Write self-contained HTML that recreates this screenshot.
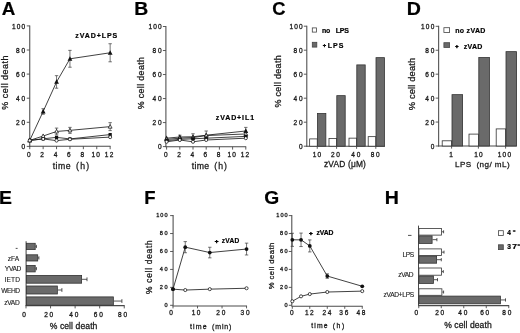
<!DOCTYPE html>
<html><head><meta charset="utf-8"><title>Figure</title>
<style>html,body{margin:0;padding:0;background:#fff;overflow:hidden;}svg{display:block;filter:blur(0.3px);}</style>
</head><body>
<svg width="520" height="333" viewBox="0 0 520 333">
<rect width="520" height="333" fill="#fff"/>
<g font-family="'Liberation Sans', sans-serif">
<text x="1.83" y="14.80" font-size="17.5" textLength="13.56" lengthAdjust="spacingAndGlyphs" font-weight="bold" fill="#000" stroke="#000" stroke-width="0.2">A</text>
<line x1="29.75" y1="25.40" x2="29.75" y2="146.90" stroke="#4a4a4a" stroke-width="1.05"/>
<line x1="26.75" y1="146.40" x2="29.75" y2="146.40" stroke="#4a4a4a" stroke-width="0.9"/>
<text x="21.54" y="149.00" font-size="6.5" letter-spacing="1.80" fill="#1a1a1a" stroke="#1a1a1a" stroke-width="0.3">0</text>
<line x1="26.75" y1="122.30" x2="29.75" y2="122.30" stroke="#4a4a4a" stroke-width="0.9"/>
<text x="16.12" y="124.90" font-size="6.5" letter-spacing="1.80" fill="#1a1a1a" stroke="#1a1a1a" stroke-width="0.3">20</text>
<line x1="26.75" y1="98.20" x2="29.75" y2="98.20" stroke="#4a4a4a" stroke-width="0.9"/>
<text x="16.12" y="100.80" font-size="6.5" letter-spacing="1.80" fill="#1a1a1a" stroke="#1a1a1a" stroke-width="0.3">40</text>
<line x1="26.75" y1="74.10" x2="29.75" y2="74.10" stroke="#4a4a4a" stroke-width="0.9"/>
<text x="16.12" y="76.70" font-size="6.5" letter-spacing="1.80" fill="#1a1a1a" stroke="#1a1a1a" stroke-width="0.3">60</text>
<line x1="26.75" y1="50.00" x2="29.75" y2="50.00" stroke="#4a4a4a" stroke-width="0.9"/>
<text x="16.12" y="52.60" font-size="6.5" letter-spacing="1.80" fill="#1a1a1a" stroke="#1a1a1a" stroke-width="0.3">80</text>
<line x1="26.75" y1="25.90" x2="29.75" y2="25.90" stroke="#4a4a4a" stroke-width="0.9"/>
<text x="11.91" y="28.50" font-size="6.5" letter-spacing="1.20" fill="#1a1a1a" stroke="#1a1a1a" stroke-width="0.3">100</text>
<line x1="29.25" y1="146.20" x2="110.55" y2="146.20" stroke="#4a4a4a" stroke-width="1.05"/>
<line x1="29.75" y1="146.20" x2="29.75" y2="149.20" stroke="#4a4a4a" stroke-width="0.9"/>
<text x="26.94" y="157.10" font-size="6.5" letter-spacing="1.80" fill="#1a1a1a" stroke="#1a1a1a" stroke-width="0.3">0</text>
<line x1="43.15" y1="146.20" x2="43.15" y2="149.20" stroke="#4a4a4a" stroke-width="0.9"/>
<text x="40.34" y="157.10" font-size="6.5" letter-spacing="1.80" fill="#1a1a1a" stroke="#1a1a1a" stroke-width="0.3">2</text>
<line x1="56.55" y1="146.20" x2="56.55" y2="149.20" stroke="#4a4a4a" stroke-width="0.9"/>
<text x="53.76" y="157.10" font-size="6.5" letter-spacing="1.80" fill="#1a1a1a" stroke="#1a1a1a" stroke-width="0.3">4</text>
<line x1="69.95" y1="146.20" x2="69.95" y2="149.20" stroke="#4a4a4a" stroke-width="0.9"/>
<text x="67.12" y="157.10" font-size="6.5" letter-spacing="1.80" fill="#1a1a1a" stroke="#1a1a1a" stroke-width="0.3">6</text>
<line x1="83.35" y1="146.20" x2="83.35" y2="149.20" stroke="#4a4a4a" stroke-width="0.9"/>
<text x="80.54" y="157.10" font-size="6.5" letter-spacing="1.80" fill="#1a1a1a" stroke="#1a1a1a" stroke-width="0.3">8</text>
<line x1="96.75" y1="146.20" x2="96.75" y2="149.20" stroke="#4a4a4a" stroke-width="0.9"/>
<text x="91.41" y="157.10" font-size="6.5" letter-spacing="1.20" fill="#1a1a1a" stroke="#1a1a1a" stroke-width="0.3">10</text>
<line x1="110.15" y1="146.20" x2="110.15" y2="149.20" stroke="#4a4a4a" stroke-width="0.9"/>
<text x="104.85" y="157.10" font-size="6.5" letter-spacing="1.20" fill="#1a1a1a" stroke="#1a1a1a" stroke-width="0.3">12</text>
<text x="52.67" y="169.10" font-size="8.7" letter-spacing="0.49" fill="#1a1a1a" stroke="#1a1a1a" stroke-width="0.28">time</text>
<text x="76.06" y="169.10" font-size="8.7" letter-spacing="1.27" fill="#1a1a1a" stroke="#1a1a1a" stroke-width="0.28">(h)</text>
<text x="8.00" y="109.82" font-size="9.0" letter-spacing="0.49" transform="rotate(-90 8.00 109.82)" fill="#1a1a1a" stroke="#1a1a1a" stroke-width="0.28">% cell death</text>
<text x="75.32" y="38.30" font-size="7.0" font-weight="bold" letter-spacing="0.92" fill="#000" stroke="#000" stroke-width="0.2">zVAD+LPS</text>
<line x1="43.15" y1="108.68" x2="43.15" y2="114.23" stroke="#3a3a3a" stroke-width="0.7"/>
<line x1="41.45" y1="108.68" x2="44.85" y2="108.68" stroke="#3a3a3a" stroke-width="0.7"/>
<line x1="41.45" y1="114.23" x2="44.85" y2="114.23" stroke="#3a3a3a" stroke-width="0.7"/>
<line x1="56.55" y1="75.67" x2="56.55" y2="88.20" stroke="#3a3a3a" stroke-width="0.7"/>
<line x1="54.85" y1="75.67" x2="58.25" y2="75.67" stroke="#3a3a3a" stroke-width="0.7"/>
<line x1="54.85" y1="88.20" x2="58.25" y2="88.20" stroke="#3a3a3a" stroke-width="0.7"/>
<line x1="69.95" y1="50.36" x2="69.95" y2="67.23" stroke="#3a3a3a" stroke-width="0.7"/>
<line x1="68.25" y1="50.36" x2="71.65" y2="50.36" stroke="#3a3a3a" stroke-width="0.7"/>
<line x1="68.25" y1="67.23" x2="71.65" y2="67.23" stroke="#3a3a3a" stroke-width="0.7"/>
<line x1="110.15" y1="43.73" x2="110.15" y2="61.81" stroke="#3a3a3a" stroke-width="0.7"/>
<line x1="108.45" y1="43.73" x2="111.85" y2="43.73" stroke="#3a3a3a" stroke-width="0.7"/>
<line x1="108.45" y1="61.81" x2="111.85" y2="61.81" stroke="#3a3a3a" stroke-width="0.7"/>
<polyline points="29.75,140.38 43.15,111.46 56.55,81.93 69.95,58.80 110.15,52.77" fill="none" stroke="#111" stroke-width="0.8" stroke-linejoin="round"/>
<polyline points="29.75,140.38 43.15,138.81 56.55,137.36 69.95,138.93 110.15,134.59" fill="none" stroke="#111" stroke-width="0.8" stroke-linejoin="round"/>
<line x1="56.55" y1="128.08" x2="56.55" y2="134.83" stroke="#3a3a3a" stroke-width="0.7"/>
<line x1="54.85" y1="128.08" x2="58.25" y2="128.08" stroke="#3a3a3a" stroke-width="0.7"/>
<line x1="54.85" y1="134.83" x2="58.25" y2="134.83" stroke="#3a3a3a" stroke-width="0.7"/>
<line x1="69.95" y1="127.36" x2="69.95" y2="133.39" stroke="#3a3a3a" stroke-width="0.7"/>
<line x1="68.25" y1="127.36" x2="71.65" y2="127.36" stroke="#3a3a3a" stroke-width="0.7"/>
<line x1="68.25" y1="133.39" x2="71.65" y2="133.39" stroke="#3a3a3a" stroke-width="0.7"/>
<line x1="110.15" y1="122.66" x2="110.15" y2="130.61" stroke="#3a3a3a" stroke-width="0.7"/>
<line x1="108.45" y1="122.66" x2="111.85" y2="122.66" stroke="#3a3a3a" stroke-width="0.7"/>
<line x1="108.45" y1="130.61" x2="111.85" y2="130.61" stroke="#3a3a3a" stroke-width="0.7"/>
<polyline points="29.75,140.38 43.15,136.04 56.55,131.46 69.95,130.37 110.15,126.64" fill="none" stroke="#111" stroke-width="0.8" stroke-linejoin="round"/>
<polyline points="29.75,140.50 43.15,138.93 56.55,140.62 69.95,139.29 110.15,137.12" fill="none" stroke="#111" stroke-width="0.8" stroke-linejoin="round"/>
<path d="M29.75,137.75 L32.14,142.31 L27.36,142.31 Z" fill="#111"/>
<path d="M43.15,108.83 L45.54,113.39 L40.76,113.39 Z" fill="#111"/>
<path d="M56.55,79.31 L58.94,83.87 L54.16,83.87 Z" fill="#111"/>
<path d="M69.95,56.17 L72.34,60.73 L67.56,60.73 Z" fill="#111"/>
<path d="M110.15,50.15 L112.54,54.71 L107.76,54.71 Z" fill="#111"/>
<rect x="28.14" y="138.76" width="3.23" height="3.23" fill="#111"/>
<rect x="41.53" y="137.19" width="3.23" height="3.23" fill="#111"/>
<rect x="54.93" y="135.75" width="3.23" height="3.23" fill="#111"/>
<rect x="68.34" y="137.31" width="3.23" height="3.23" fill="#111"/>
<rect x="108.54" y="132.98" width="3.23" height="3.23" fill="#111"/>
<path d="M29.75,138.28 L31.65,141.90 L27.85,141.90 Z" fill="#fff" stroke="#111" stroke-width="0.75"/>
<path d="M43.15,133.95 L45.05,137.56 L41.25,137.56 Z" fill="#fff" stroke="#111" stroke-width="0.75"/>
<path d="M56.55,129.37 L58.45,132.98 L54.65,132.98 Z" fill="#fff" stroke="#111" stroke-width="0.75"/>
<path d="M69.95,128.28 L71.85,131.89 L68.05,131.89 Z" fill="#fff" stroke="#111" stroke-width="0.75"/>
<path d="M110.15,124.55 L112.05,128.16 L108.25,128.16 Z" fill="#fff" stroke="#111" stroke-width="0.75"/>
<circle cx="29.75" cy="140.50" r="1.55" fill="#fff" stroke="#111" stroke-width="0.75"/>
<circle cx="43.15" cy="138.93" r="1.55" fill="#fff" stroke="#111" stroke-width="0.75"/>
<circle cx="56.55" cy="140.62" r="1.55" fill="#fff" stroke="#111" stroke-width="0.75"/>
<circle cx="69.95" cy="139.29" r="1.55" fill="#fff" stroke="#111" stroke-width="0.75"/>
<circle cx="110.15" cy="137.12" r="1.55" fill="#fff" stroke="#111" stroke-width="0.75"/>
<text x="134.31" y="15.00" font-size="17.5" textLength="13.97" lengthAdjust="spacingAndGlyphs" font-weight="bold" fill="#000" stroke="#000" stroke-width="0.2">B</text>
<line x1="165.90" y1="26.00" x2="165.90" y2="147.10" stroke="#4a4a4a" stroke-width="1.05"/>
<line x1="162.90" y1="146.60" x2="165.90" y2="146.60" stroke="#4a4a4a" stroke-width="0.9"/>
<text x="158.04" y="149.20" font-size="6.5" letter-spacing="1.80" fill="#1a1a1a" stroke="#1a1a1a" stroke-width="0.3">0</text>
<line x1="162.90" y1="122.58" x2="165.90" y2="122.58" stroke="#4a4a4a" stroke-width="0.9"/>
<text x="152.62" y="125.18" font-size="6.5" letter-spacing="1.80" fill="#1a1a1a" stroke="#1a1a1a" stroke-width="0.3">20</text>
<line x1="162.90" y1="98.56" x2="165.90" y2="98.56" stroke="#4a4a4a" stroke-width="0.9"/>
<text x="152.62" y="101.16" font-size="6.5" letter-spacing="1.80" fill="#1a1a1a" stroke="#1a1a1a" stroke-width="0.3">40</text>
<line x1="162.90" y1="74.54" x2="165.90" y2="74.54" stroke="#4a4a4a" stroke-width="0.9"/>
<text x="152.62" y="77.14" font-size="6.5" letter-spacing="1.80" fill="#1a1a1a" stroke="#1a1a1a" stroke-width="0.3">60</text>
<line x1="162.90" y1="50.52" x2="165.90" y2="50.52" stroke="#4a4a4a" stroke-width="0.9"/>
<text x="152.62" y="53.12" font-size="6.5" letter-spacing="1.80" fill="#1a1a1a" stroke="#1a1a1a" stroke-width="0.3">80</text>
<line x1="162.90" y1="26.50" x2="165.90" y2="26.50" stroke="#4a4a4a" stroke-width="0.9"/>
<text x="148.41" y="29.10" font-size="6.5" letter-spacing="1.20" fill="#1a1a1a" stroke="#1a1a1a" stroke-width="0.3">100</text>
<line x1="165.40" y1="146.80" x2="246.20" y2="146.80" stroke="#4a4a4a" stroke-width="1.05"/>
<line x1="166.60" y1="146.80" x2="166.60" y2="149.60" stroke="#4a4a4a" stroke-width="0.9"/>
<text x="163.99" y="157.10" font-size="6.5" letter-spacing="1.80" fill="#1a1a1a" stroke="#1a1a1a" stroke-width="0.3">0</text>
<line x1="179.80" y1="146.80" x2="179.80" y2="149.60" stroke="#4a4a4a" stroke-width="0.9"/>
<text x="177.19" y="157.10" font-size="6.5" letter-spacing="1.80" fill="#1a1a1a" stroke="#1a1a1a" stroke-width="0.3">2</text>
<line x1="193.00" y1="146.80" x2="193.00" y2="149.60" stroke="#4a4a4a" stroke-width="0.9"/>
<text x="190.41" y="157.10" font-size="6.5" letter-spacing="1.80" fill="#1a1a1a" stroke="#1a1a1a" stroke-width="0.3">4</text>
<line x1="206.20" y1="146.80" x2="206.20" y2="149.60" stroke="#4a4a4a" stroke-width="0.9"/>
<text x="203.57" y="157.10" font-size="6.5" letter-spacing="1.80" fill="#1a1a1a" stroke="#1a1a1a" stroke-width="0.3">6</text>
<line x1="219.40" y1="146.80" x2="219.40" y2="149.60" stroke="#4a4a4a" stroke-width="0.9"/>
<text x="216.79" y="157.10" font-size="6.5" letter-spacing="1.80" fill="#1a1a1a" stroke="#1a1a1a" stroke-width="0.3">8</text>
<line x1="232.60" y1="146.80" x2="232.60" y2="149.60" stroke="#4a4a4a" stroke-width="0.9"/>
<text x="227.46" y="157.10" font-size="6.5" letter-spacing="1.20" fill="#1a1a1a" stroke="#1a1a1a" stroke-width="0.3">10</text>
<line x1="245.80" y1="146.80" x2="245.80" y2="149.60" stroke="#4a4a4a" stroke-width="0.9"/>
<text x="240.70" y="157.10" font-size="6.5" letter-spacing="1.20" fill="#1a1a1a" stroke="#1a1a1a" stroke-width="0.3">12</text>
<text x="191.67" y="168.80" font-size="8.7" letter-spacing="0.36" fill="#1a1a1a" stroke="#1a1a1a" stroke-width="0.28">time</text>
<text x="214.26" y="168.80" font-size="8.7" letter-spacing="1.07" fill="#1a1a1a" stroke="#1a1a1a" stroke-width="0.28">(h)</text>
<text x="144.20" y="109.31" font-size="8.8" letter-spacing="0.39" transform="rotate(-90 144.20 109.31)" fill="#1a1a1a" stroke="#1a1a1a" stroke-width="0.28">% cell death</text>
<text x="215.72" y="120.40" font-size="7.0" font-weight="bold" letter-spacing="0.91" fill="#000" stroke="#000" stroke-width="0.2">zVAD+IL1</text>
<line x1="179.80" y1="135.19" x2="179.80" y2="138.79" stroke="#3a3a3a" stroke-width="0.7"/>
<line x1="178.10" y1="135.19" x2="181.50" y2="135.19" stroke="#3a3a3a" stroke-width="0.7"/>
<line x1="178.10" y1="138.79" x2="181.50" y2="138.79" stroke="#3a3a3a" stroke-width="0.7"/>
<line x1="193.00" y1="133.75" x2="193.00" y2="139.75" stroke="#3a3a3a" stroke-width="0.7"/>
<line x1="191.30" y1="133.75" x2="194.70" y2="133.75" stroke="#3a3a3a" stroke-width="0.7"/>
<line x1="191.30" y1="139.75" x2="194.70" y2="139.75" stroke="#3a3a3a" stroke-width="0.7"/>
<line x1="206.20" y1="130.99" x2="206.20" y2="139.39" stroke="#3a3a3a" stroke-width="0.7"/>
<line x1="204.50" y1="130.99" x2="207.90" y2="130.99" stroke="#3a3a3a" stroke-width="0.7"/>
<line x1="204.50" y1="139.39" x2="207.90" y2="139.39" stroke="#3a3a3a" stroke-width="0.7"/>
<line x1="245.80" y1="127.38" x2="245.80" y2="134.59" stroke="#3a3a3a" stroke-width="0.7"/>
<line x1="244.10" y1="127.38" x2="247.50" y2="127.38" stroke="#3a3a3a" stroke-width="0.7"/>
<line x1="244.10" y1="134.59" x2="247.50" y2="134.59" stroke="#3a3a3a" stroke-width="0.7"/>
<polyline points="166.60,138.19 179.80,136.99 193.00,136.75 206.20,135.19 245.80,130.99" fill="none" stroke="#111" stroke-width="0.8" stroke-linejoin="round"/>
<polyline points="166.60,139.39 179.80,138.19 193.00,137.59 206.20,135.55 245.80,133.99" fill="none" stroke="#111" stroke-width="0.8" stroke-linejoin="round"/>
<polyline points="166.60,140.59 179.80,139.39 193.00,138.79 206.20,138.19 245.80,136.39" fill="none" stroke="#111" stroke-width="0.8" stroke-linejoin="round"/>
<polyline points="166.60,141.80 179.80,139.99 193.00,141.80 206.20,139.99 245.80,138.19" fill="none" stroke="#111" stroke-width="0.8" stroke-linejoin="round"/>
<path d="M166.60,135.57 L168.99,140.13 L164.21,140.13 Z" fill="#111"/>
<path d="M179.80,134.37 L182.19,138.93 L177.41,138.93 Z" fill="#111"/>
<path d="M193.00,134.13 L195.39,138.69 L190.61,138.69 Z" fill="#111"/>
<path d="M206.20,132.57 L208.59,137.13 L203.81,137.13 Z" fill="#111"/>
<path d="M245.80,128.37 L248.19,132.92 L243.41,132.92 Z" fill="#111"/>
<path d="M166.60,137.30 L168.50,140.91 L164.70,140.91 Z" fill="#fff" stroke="#111" stroke-width="0.75"/>
<path d="M179.80,136.10 L181.70,139.71 L177.90,139.71 Z" fill="#fff" stroke="#111" stroke-width="0.75"/>
<path d="M193.00,135.50 L194.90,139.11 L191.10,139.11 Z" fill="#fff" stroke="#111" stroke-width="0.75"/>
<path d="M206.20,133.46 L208.10,137.07 L204.30,137.07 Z" fill="#fff" stroke="#111" stroke-width="0.75"/>
<path d="M245.80,131.90 L247.70,135.51 L243.90,135.51 Z" fill="#fff" stroke="#111" stroke-width="0.75"/>
<circle cx="166.60" cy="140.59" r="1.90" fill="#111"/>
<circle cx="179.80" cy="139.39" r="1.90" fill="#111"/>
<circle cx="193.00" cy="138.79" r="1.90" fill="#111"/>
<circle cx="206.20" cy="138.19" r="1.90" fill="#111"/>
<circle cx="245.80" cy="136.39" r="1.90" fill="#111"/>
<circle cx="166.60" cy="141.80" r="1.55" fill="#fff" stroke="#111" stroke-width="0.75"/>
<circle cx="179.80" cy="139.99" r="1.55" fill="#fff" stroke="#111" stroke-width="0.75"/>
<circle cx="193.00" cy="141.80" r="1.55" fill="#fff" stroke="#111" stroke-width="0.75"/>
<circle cx="206.20" cy="139.99" r="1.55" fill="#fff" stroke="#111" stroke-width="0.75"/>
<circle cx="245.80" cy="138.19" r="1.55" fill="#fff" stroke="#111" stroke-width="0.75"/>
<text x="272.25" y="15.00" font-size="17.5" textLength="13.25" lengthAdjust="spacingAndGlyphs" font-weight="bold" fill="#000" stroke="#000" stroke-width="0.2">C</text>
<line x1="306.80" y1="25.70" x2="306.80" y2="146.70" stroke="#4a4a4a" stroke-width="1.05"/>
<line x1="303.80" y1="146.20" x2="306.80" y2="146.20" stroke="#4a4a4a" stroke-width="0.9"/>
<text x="299.04" y="148.80" font-size="6.5" letter-spacing="1.80" fill="#1a1a1a" stroke="#1a1a1a" stroke-width="0.3">0</text>
<line x1="303.80" y1="122.20" x2="306.80" y2="122.20" stroke="#4a4a4a" stroke-width="0.9"/>
<text x="293.62" y="124.80" font-size="6.5" letter-spacing="1.80" fill="#1a1a1a" stroke="#1a1a1a" stroke-width="0.3">20</text>
<line x1="303.80" y1="98.20" x2="306.80" y2="98.20" stroke="#4a4a4a" stroke-width="0.9"/>
<text x="293.62" y="100.80" font-size="6.5" letter-spacing="1.80" fill="#1a1a1a" stroke="#1a1a1a" stroke-width="0.3">40</text>
<line x1="303.80" y1="74.20" x2="306.80" y2="74.20" stroke="#4a4a4a" stroke-width="0.9"/>
<text x="293.62" y="76.80" font-size="6.5" letter-spacing="1.80" fill="#1a1a1a" stroke="#1a1a1a" stroke-width="0.3">60</text>
<line x1="303.80" y1="50.20" x2="306.80" y2="50.20" stroke="#4a4a4a" stroke-width="0.9"/>
<text x="293.62" y="52.80" font-size="6.5" letter-spacing="1.80" fill="#1a1a1a" stroke="#1a1a1a" stroke-width="0.3">80</text>
<line x1="303.80" y1="26.20" x2="306.80" y2="26.20" stroke="#4a4a4a" stroke-width="0.9"/>
<text x="289.41" y="28.80" font-size="6.5" letter-spacing="1.20" fill="#1a1a1a" stroke="#1a1a1a" stroke-width="0.3">100</text>
<line x1="306.30" y1="146.20" x2="385.00" y2="146.20" stroke="#4a4a4a" stroke-width="1.05"/>
<rect x="309.65" y="138.90" width="7.60" height="7.30" fill="#fff" stroke="#333" stroke-width="0.8"/>
<rect x="317.45" y="113.50" width="8.40" height="32.70" fill="#6a6a6a" stroke="#333" stroke-width="0.8"/>
<line x1="317.25" y1="146.20" x2="317.25" y2="148.80" stroke="#4a4a4a" stroke-width="0.9"/>
<text x="312.66" y="156.70" font-size="6.5" letter-spacing="1.20" fill="#1a1a1a" stroke="#1a1a1a" stroke-width="0.3">10</text>
<rect x="329.00" y="138.50" width="7.60" height="7.70" fill="#fff" stroke="#333" stroke-width="0.8"/>
<rect x="336.80" y="95.65" width="8.40" height="50.55" fill="#6a6a6a" stroke="#333" stroke-width="0.8"/>
<line x1="336.60" y1="146.20" x2="336.60" y2="148.80" stroke="#4a4a4a" stroke-width="0.9"/>
<text x="330.95" y="156.70" font-size="6.5" letter-spacing="1.80" fill="#1a1a1a" stroke="#1a1a1a" stroke-width="0.3">20</text>
<rect x="349.00" y="138.15" width="7.60" height="8.05" fill="#fff" stroke="#333" stroke-width="0.8"/>
<rect x="356.80" y="64.90" width="8.40" height="81.30" fill="#6a6a6a" stroke="#333" stroke-width="0.8"/>
<line x1="356.60" y1="146.20" x2="356.60" y2="148.80" stroke="#4a4a4a" stroke-width="0.9"/>
<text x="351.34" y="156.70" font-size="6.5" letter-spacing="1.80" fill="#1a1a1a" stroke="#1a1a1a" stroke-width="0.3">40</text>
<rect x="368.20" y="136.65" width="7.60" height="9.55" fill="#fff" stroke="#333" stroke-width="0.8"/>
<rect x="376.00" y="57.65" width="8.40" height="88.55" fill="#6a6a6a" stroke="#333" stroke-width="0.8"/>
<line x1="375.80" y1="146.20" x2="375.80" y2="148.80" stroke="#4a4a4a" stroke-width="0.9"/>
<text x="370.67" y="156.70" font-size="6.5" letter-spacing="1.80" fill="#1a1a1a" stroke="#1a1a1a" stroke-width="0.3">80</text>
<text x="323.96" y="167.10" font-size="8.4" letter-spacing="0.18" fill="#1a1a1a" stroke="#1a1a1a" stroke-width="0.28">zVAD (μM)</text>
<text x="281.00" y="107.62" font-size="9.0" letter-spacing="0.30" transform="rotate(-90 281.00 107.62)" fill="#1a1a1a" stroke="#1a1a1a" stroke-width="0.28">% cell death</text>
<rect x="312.30" y="27.90" width="4.20" height="4.20" fill="#fff" stroke="#444" stroke-width="0.8"/>
<rect x="312.30" y="42.30" width="4.50" height="4.80" fill="#6a6a6a" stroke="#444" stroke-width="0.8"/>
<text x="322.04" y="32.60" font-size="7.0" font-weight="bold" letter-spacing="-0.32" fill="#000" stroke="#000" stroke-width="0.2">no</text>
<text x="335.83" y="32.60" font-size="7.0" font-weight="bold" letter-spacing="-0.24" fill="#000" stroke="#000" stroke-width="0.2">LPS</text>
<text x="322.76" y="46.80" font-size="5.8" textLength="3.38" lengthAdjust="spacingAndGlyphs" font-weight="bold" fill="#000" stroke="#000" stroke-width="0.35">+</text>
<text x="327.63" y="47.60" font-size="7.0" font-weight="bold" letter-spacing="1.06" fill="#000" stroke="#000" stroke-width="0.2">LPS</text>
<text x="406.69" y="15.00" font-size="17.5" textLength="14.13" lengthAdjust="spacingAndGlyphs" font-weight="bold" fill="#000" stroke="#000" stroke-width="0.2">D</text>
<line x1="438.65" y1="25.80" x2="438.65" y2="146.50" stroke="#4a4a4a" stroke-width="1.05"/>
<line x1="435.65" y1="146.00" x2="438.65" y2="146.00" stroke="#4a4a4a" stroke-width="0.9"/>
<text x="430.64" y="148.60" font-size="6.5" letter-spacing="1.80" fill="#1a1a1a" stroke="#1a1a1a" stroke-width="0.3">0</text>
<line x1="435.65" y1="122.06" x2="438.65" y2="122.06" stroke="#4a4a4a" stroke-width="0.9"/>
<text x="425.22" y="124.66" font-size="6.5" letter-spacing="1.80" fill="#1a1a1a" stroke="#1a1a1a" stroke-width="0.3">20</text>
<line x1="435.65" y1="98.12" x2="438.65" y2="98.12" stroke="#4a4a4a" stroke-width="0.9"/>
<text x="425.22" y="100.72" font-size="6.5" letter-spacing="1.80" fill="#1a1a1a" stroke="#1a1a1a" stroke-width="0.3">40</text>
<line x1="435.65" y1="74.18" x2="438.65" y2="74.18" stroke="#4a4a4a" stroke-width="0.9"/>
<text x="425.22" y="76.78" font-size="6.5" letter-spacing="1.80" fill="#1a1a1a" stroke="#1a1a1a" stroke-width="0.3">60</text>
<line x1="435.65" y1="50.24" x2="438.65" y2="50.24" stroke="#4a4a4a" stroke-width="0.9"/>
<text x="425.22" y="52.84" font-size="6.5" letter-spacing="1.80" fill="#1a1a1a" stroke="#1a1a1a" stroke-width="0.3">80</text>
<line x1="435.65" y1="26.30" x2="438.65" y2="26.30" stroke="#4a4a4a" stroke-width="0.9"/>
<text x="421.01" y="28.90" font-size="6.5" letter-spacing="1.20" fill="#1a1a1a" stroke="#1a1a1a" stroke-width="0.3">100</text>
<line x1="438.15" y1="146.00" x2="516.80" y2="146.00" stroke="#4a4a4a" stroke-width="1.05"/>
<rect x="442.20" y="140.80" width="9.40" height="5.20" fill="#fff" stroke="#333" stroke-width="0.8"/>
<rect x="452.00" y="94.65" width="10.60" height="51.35" fill="#6a6a6a" stroke="#333" stroke-width="0.8"/>
<line x1="451.60" y1="146.00" x2="451.60" y2="148.60" stroke="#4a4a4a" stroke-width="0.9"/>
<text x="449.20" y="156.70" font-size="6.5" letter-spacing="1.20" fill="#1a1a1a" stroke="#1a1a1a" stroke-width="0.3">1</text>
<rect x="469.00" y="134.10" width="9.40" height="11.90" fill="#fff" stroke="#333" stroke-width="0.8"/>
<rect x="478.80" y="57.50" width="10.60" height="88.50" fill="#6a6a6a" stroke="#333" stroke-width="0.8"/>
<line x1="478.40" y1="146.00" x2="478.40" y2="148.60" stroke="#4a4a4a" stroke-width="0.9"/>
<text x="474.16" y="156.70" font-size="6.5" letter-spacing="1.20" fill="#1a1a1a" stroke="#1a1a1a" stroke-width="0.3">10</text>
<rect x="496.20" y="128.90" width="9.40" height="17.10" fill="#fff" stroke="#333" stroke-width="0.8"/>
<rect x="506.00" y="51.65" width="10.60" height="94.35" fill="#6a6a6a" stroke="#333" stroke-width="0.8"/>
<line x1="505.60" y1="146.00" x2="505.60" y2="148.60" stroke="#4a4a4a" stroke-width="0.9"/>
<text x="497.76" y="156.70" font-size="6.5" letter-spacing="1.20" fill="#1a1a1a" stroke="#1a1a1a" stroke-width="0.3">100</text>
<text x="455.04" y="166.90" font-size="8.1" letter-spacing="0.36" fill="#1a1a1a" stroke="#1a1a1a" stroke-width="0.28">LPS</text>
<text x="476.40" y="166.90" font-size="8.1" letter-spacing="0.45" fill="#1a1a1a" stroke="#1a1a1a" stroke-width="0.28">(ng/ mL)</text>
<text x="415.20" y="110.23" font-size="9.3" letter-spacing="0.16" transform="rotate(-90 415.20 110.23)" fill="#1a1a1a" stroke="#1a1a1a" stroke-width="0.28">% cell death</text>
<rect x="443.90" y="27.70" width="5.70" height="4.80" fill="#fff" stroke="#444" stroke-width="0.8"/>
<rect x="443.90" y="42.70" width="5.70" height="4.70" fill="#6a6a6a" stroke="#444" stroke-width="0.8"/>
<text x="455.14" y="33.00" font-size="7.0" font-weight="bold" letter-spacing="0.33" fill="#000" stroke="#000" stroke-width="0.2">no zVAD</text>
<text x="455.17" y="48.40" font-size="5.0" textLength="3.26" lengthAdjust="spacingAndGlyphs" font-weight="bold" fill="#000" stroke="#000" stroke-width="0.5">+</text>
<text x="463.72" y="48.60" font-size="7.0" font-weight="bold" letter-spacing="0.26" fill="#000" stroke="#000" stroke-width="0.2">zVAD</text>
<text x="-1.00" y="204.00" font-size="17.5" textLength="12.96" lengthAdjust="spacingAndGlyphs" font-weight="bold" fill="#000" stroke="#000" stroke-width="0.2">E</text>
<line x1="26.10" y1="241.20" x2="26.10" y2="306.00" stroke="#4a4a4a" stroke-width="1.05"/>
<line x1="25.60" y1="305.60" x2="124.64" y2="305.60" stroke="#4a4a4a" stroke-width="1.05"/>
<line x1="26.00" y1="305.60" x2="26.00" y2="308.40" stroke="#4a4a4a" stroke-width="0.9"/>
<text x="22.19" y="316.60" font-size="6.5" letter-spacing="1.80" fill="#1a1a1a" stroke="#1a1a1a" stroke-width="0.3">0</text>
<line x1="50.56" y1="305.60" x2="50.56" y2="308.40" stroke="#4a4a4a" stroke-width="0.9"/>
<text x="44.20" y="316.60" font-size="6.5" letter-spacing="1.80" fill="#1a1a1a" stroke="#1a1a1a" stroke-width="0.3">20</text>
<line x1="75.12" y1="305.60" x2="75.12" y2="308.40" stroke="#4a4a4a" stroke-width="0.9"/>
<text x="69.29" y="316.60" font-size="6.5" letter-spacing="1.80" fill="#1a1a1a" stroke="#1a1a1a" stroke-width="0.3">40</text>
<line x1="99.68" y1="305.60" x2="99.68" y2="308.40" stroke="#4a4a4a" stroke-width="0.9"/>
<text x="93.85" y="316.60" font-size="6.5" letter-spacing="1.80" fill="#1a1a1a" stroke="#1a1a1a" stroke-width="0.3">60</text>
<line x1="124.24" y1="305.60" x2="124.24" y2="308.40" stroke="#4a4a4a" stroke-width="0.9"/>
<text x="118.07" y="316.60" font-size="6.5" letter-spacing="1.80" fill="#1a1a1a" stroke="#1a1a1a" stroke-width="0.3">80</text>
<text x="49.69" y="328.50" font-size="8.6" letter-spacing="0.08" fill="#1a1a1a" stroke="#1a1a1a" stroke-width="0.28">% cell death</text>
<line x1="35.60" y1="246.45" x2="36.40" y2="246.45" stroke="#222" stroke-width="0.75"/>
<line x1="36.40" y1="244.85" x2="36.40" y2="248.05" stroke="#222" stroke-width="0.75"/>
<rect x="26.50" y="243.30" width="8.70" height="6.30" fill="#6a6a6a" stroke="#333" stroke-width="0.8"/>
<line x1="15.70" y1="248.40" x2="17.60" y2="248.40" stroke="#222" stroke-width="0.8"/>
<line x1="38.10" y1="257.90" x2="38.90" y2="257.90" stroke="#222" stroke-width="0.75"/>
<line x1="38.90" y1="256.30" x2="38.90" y2="259.50" stroke="#222" stroke-width="0.75"/>
<rect x="26.50" y="254.80" width="11.20" height="6.20" fill="#6a6a6a" stroke="#333" stroke-width="0.8"/>
<text x="7.83" y="260.60" font-size="6.6" letter-spacing="-0.08" fill="#1a1a1a" stroke="#1a1a1a" stroke-width="0.12">zFA</text>
<line x1="35.60" y1="268.65" x2="36.40" y2="268.65" stroke="#222" stroke-width="0.75"/>
<line x1="36.40" y1="267.05" x2="36.40" y2="270.25" stroke="#222" stroke-width="0.75"/>
<rect x="26.50" y="265.40" width="8.70" height="6.50" fill="#6a6a6a" stroke="#333" stroke-width="0.8"/>
<text x="4.85" y="271.00" font-size="6.6" letter-spacing="-0.34" fill="#1a1a1a" stroke="#1a1a1a" stroke-width="0.12">YVAD</text>
<line x1="82.00" y1="279.30" x2="87.00" y2="279.30" stroke="#222" stroke-width="0.75"/>
<line x1="87.00" y1="277.40" x2="87.00" y2="281.20" stroke="#222" stroke-width="0.75"/>
<rect x="26.50" y="275.40" width="55.10" height="7.80" fill="#6a6a6a" stroke="#333" stroke-width="0.8"/>
<text x="4.39" y="282.20" font-size="6.6" letter-spacing="0.23" fill="#1a1a1a" stroke="#1a1a1a" stroke-width="0.12">IETD</text>
<line x1="57.75" y1="290.00" x2="61.90" y2="290.00" stroke="#222" stroke-width="0.75"/>
<line x1="61.90" y1="288.10" x2="61.90" y2="291.90" stroke="#222" stroke-width="0.75"/>
<rect x="26.50" y="286.00" width="30.85" height="8.00" fill="#6a6a6a" stroke="#333" stroke-width="0.8"/>
<text x="1.27" y="292.70" font-size="6.6" letter-spacing="-0.44" fill="#1a1a1a" stroke="#1a1a1a" stroke-width="0.12">WEHD</text>
<line x1="113.75" y1="301.05" x2="121.90" y2="301.05" stroke="#222" stroke-width="0.75"/>
<line x1="121.90" y1="299.15" x2="121.90" y2="302.95" stroke="#222" stroke-width="0.75"/>
<rect x="26.50" y="296.90" width="86.85" height="8.30" fill="#6a6a6a" stroke="#333" stroke-width="0.8"/>
<text x="4.13" y="304.90" font-size="6.6" letter-spacing="-0.23" fill="#1a1a1a" stroke="#1a1a1a" stroke-width="0.12">zVAD</text>
<text x="144.36" y="204.00" font-size="17.5" textLength="11.32" lengthAdjust="spacingAndGlyphs" font-weight="bold" fill="#000" stroke="#000" stroke-width="0.2">F</text>
<line x1="173.10" y1="215.10" x2="173.10" y2="305.80" stroke="#4a4a4a" stroke-width="1.05"/>
<line x1="170.10" y1="305.30" x2="173.10" y2="305.30" stroke="#4a4a4a" stroke-width="0.9"/>
<text x="164.50" y="307.02" font-size="5.6" letter-spacing="1.55" fill="#1a1a1a" stroke="#1a1a1a" stroke-width="0.3">0</text>
<line x1="170.10" y1="287.36" x2="173.10" y2="287.36" stroke="#4a4a4a" stroke-width="0.9"/>
<text x="159.84" y="289.08" font-size="5.6" letter-spacing="1.55" fill="#1a1a1a" stroke="#1a1a1a" stroke-width="0.3">20</text>
<line x1="170.10" y1="269.42" x2="173.10" y2="269.42" stroke="#4a4a4a" stroke-width="0.9"/>
<text x="159.84" y="271.14" font-size="5.6" letter-spacing="1.55" fill="#1a1a1a" stroke="#1a1a1a" stroke-width="0.3">40</text>
<line x1="170.10" y1="251.48" x2="173.10" y2="251.48" stroke="#4a4a4a" stroke-width="0.9"/>
<text x="159.84" y="253.20" font-size="5.6" letter-spacing="1.55" fill="#1a1a1a" stroke="#1a1a1a" stroke-width="0.3">60</text>
<line x1="170.10" y1="233.54" x2="173.10" y2="233.54" stroke="#4a4a4a" stroke-width="0.9"/>
<text x="159.84" y="235.26" font-size="5.6" letter-spacing="1.55" fill="#1a1a1a" stroke="#1a1a1a" stroke-width="0.3">80</text>
<line x1="170.10" y1="215.60" x2="173.10" y2="215.60" stroke="#4a4a4a" stroke-width="0.9"/>
<text x="156.21" y="217.32" font-size="5.6" letter-spacing="1.03" fill="#1a1a1a" stroke="#1a1a1a" stroke-width="0.3">100</text>
<line x1="172.60" y1="305.90" x2="246.96" y2="305.90" stroke="#4a4a4a" stroke-width="1.05"/>
<line x1="173.00" y1="305.90" x2="173.00" y2="308.40" stroke="#4a4a4a" stroke-width="0.9"/>
<text x="169.19" y="315.20" font-size="6.5" letter-spacing="1.80" fill="#1a1a1a" stroke="#1a1a1a" stroke-width="0.3">0</text>
<line x1="197.52" y1="305.90" x2="197.52" y2="308.40" stroke="#4a4a4a" stroke-width="0.9"/>
<text x="191.86" y="315.20" font-size="6.5" letter-spacing="1.20" fill="#1a1a1a" stroke="#1a1a1a" stroke-width="0.3">10</text>
<line x1="222.04" y1="305.90" x2="222.04" y2="308.40" stroke="#4a4a4a" stroke-width="0.9"/>
<text x="216.25" y="315.20" font-size="6.5" letter-spacing="1.80" fill="#1a1a1a" stroke="#1a1a1a" stroke-width="0.3">20</text>
<line x1="246.56" y1="305.90" x2="246.56" y2="308.40" stroke="#4a4a4a" stroke-width="0.9"/>
<text x="240.49" y="315.20" font-size="6.5" letter-spacing="1.80" fill="#1a1a1a" stroke="#1a1a1a" stroke-width="0.3">30</text>
<text x="189.99" y="329.40" font-size="7.0" letter-spacing="1.16" fill="#1a1a1a" stroke="#1a1a1a" stroke-width="0.28">time</text>
<text x="212.07" y="329.40" font-size="7.0" letter-spacing="0.86" fill="#1a1a1a" stroke="#1a1a1a" stroke-width="0.28">(min)</text>
<text x="152.30" y="294.00" font-size="8.4" letter-spacing="0.73" transform="rotate(-90 152.30 294.00)" fill="#1a1a1a" stroke="#1a1a1a" stroke-width="0.28">% cell death</text>
<polyline points="173.00,289.15 185.26,290.05 209.78,289.15 246.56,288.26" fill="none" stroke="#111" stroke-width="0.8" stroke-linejoin="round"/>
<line x1="185.26" y1="241.61" x2="185.26" y2="252.74" stroke="#3a3a3a" stroke-width="0.7"/>
<line x1="183.56" y1="241.61" x2="186.96" y2="241.61" stroke="#3a3a3a" stroke-width="0.7"/>
<line x1="183.56" y1="252.74" x2="186.96" y2="252.74" stroke="#3a3a3a" stroke-width="0.7"/>
<line x1="209.78" y1="247.26" x2="209.78" y2="257.85" stroke="#3a3a3a" stroke-width="0.7"/>
<line x1="208.08" y1="247.26" x2="211.48" y2="247.26" stroke="#3a3a3a" stroke-width="0.7"/>
<line x1="208.08" y1="257.85" x2="211.48" y2="257.85" stroke="#3a3a3a" stroke-width="0.7"/>
<line x1="246.56" y1="243.14" x2="246.56" y2="254.98" stroke="#3a3a3a" stroke-width="0.7"/>
<line x1="244.86" y1="243.14" x2="248.26" y2="243.14" stroke="#3a3a3a" stroke-width="0.7"/>
<line x1="244.86" y1="254.98" x2="248.26" y2="254.98" stroke="#3a3a3a" stroke-width="0.7"/>
<polyline points="173.00,289.15 185.26,247.17 209.78,252.56 246.56,249.06" fill="none" stroke="#111" stroke-width="0.8" stroke-linejoin="round"/>
<circle cx="173.00" cy="289.15" r="1.55" fill="#fff" stroke="#111" stroke-width="0.75"/>
<circle cx="185.26" cy="290.05" r="1.55" fill="#fff" stroke="#111" stroke-width="0.75"/>
<circle cx="209.78" cy="289.15" r="1.55" fill="#fff" stroke="#111" stroke-width="0.75"/>
<circle cx="246.56" cy="288.26" r="1.55" fill="#fff" stroke="#111" stroke-width="0.75"/>
<circle cx="173.00" cy="289.15" r="1.90" fill="#111"/>
<circle cx="185.26" cy="247.17" r="1.90" fill="#111"/>
<circle cx="209.78" cy="252.56" r="1.90" fill="#111"/>
<circle cx="246.56" cy="249.06" r="1.90" fill="#111"/>
<text x="214.83" y="243.20" font-size="5.6" textLength="3.73" lengthAdjust="spacingAndGlyphs" font-weight="bold" fill="#000" stroke="#000" stroke-width="0.5">+</text>
<text x="221.64" y="242.70" font-size="6.6" font-weight="bold" letter-spacing="0.30" fill="#000" stroke="#000" stroke-width="0.2">zVAD</text>
<text x="264.21" y="204.00" font-size="17.5" textLength="14.98" lengthAdjust="spacingAndGlyphs" font-weight="bold" fill="#000" stroke="#000" stroke-width="0.2">G</text>
<line x1="291.80" y1="215.10" x2="291.80" y2="305.80" stroke="#4a4a4a" stroke-width="1.05"/>
<line x1="288.80" y1="305.30" x2="291.80" y2="305.30" stroke="#4a4a4a" stroke-width="0.9"/>
<text x="284.60" y="307.02" font-size="5.6" letter-spacing="1.55" fill="#1a1a1a" stroke="#1a1a1a" stroke-width="0.3">0</text>
<line x1="288.80" y1="287.36" x2="291.80" y2="287.36" stroke="#4a4a4a" stroke-width="0.9"/>
<text x="279.94" y="289.08" font-size="5.6" letter-spacing="1.55" fill="#1a1a1a" stroke="#1a1a1a" stroke-width="0.3">20</text>
<line x1="288.80" y1="269.42" x2="291.80" y2="269.42" stroke="#4a4a4a" stroke-width="0.9"/>
<text x="279.94" y="271.14" font-size="5.6" letter-spacing="1.55" fill="#1a1a1a" stroke="#1a1a1a" stroke-width="0.3">40</text>
<line x1="288.80" y1="251.48" x2="291.80" y2="251.48" stroke="#4a4a4a" stroke-width="0.9"/>
<text x="279.94" y="253.20" font-size="5.6" letter-spacing="1.55" fill="#1a1a1a" stroke="#1a1a1a" stroke-width="0.3">60</text>
<line x1="288.80" y1="233.54" x2="291.80" y2="233.54" stroke="#4a4a4a" stroke-width="0.9"/>
<text x="279.94" y="235.26" font-size="5.6" letter-spacing="1.55" fill="#1a1a1a" stroke="#1a1a1a" stroke-width="0.3">80</text>
<line x1="288.80" y1="215.60" x2="291.80" y2="215.60" stroke="#4a4a4a" stroke-width="0.9"/>
<text x="276.31" y="217.32" font-size="5.6" letter-spacing="1.03" fill="#1a1a1a" stroke="#1a1a1a" stroke-width="0.3">100</text>
<line x1="291.30" y1="306.20" x2="362.64" y2="306.20" stroke="#4a4a4a" stroke-width="1.05"/>
<line x1="292.30" y1="306.20" x2="292.30" y2="308.80" stroke="#4a4a4a" stroke-width="0.9"/>
<text x="289.89" y="314.70" font-size="6.5" letter-spacing="1.80" fill="#1a1a1a" stroke="#1a1a1a" stroke-width="0.3">0</text>
<line x1="309.78" y1="306.20" x2="309.78" y2="308.80" stroke="#4a4a4a" stroke-width="0.9"/>
<text x="305.10" y="314.70" font-size="6.5" letter-spacing="1.20" fill="#1a1a1a" stroke="#1a1a1a" stroke-width="0.3">12</text>
<line x1="327.27" y1="306.20" x2="327.27" y2="308.80" stroke="#4a4a4a" stroke-width="0.9"/>
<text x="322.42" y="314.70" font-size="6.5" letter-spacing="1.80" fill="#1a1a1a" stroke="#1a1a1a" stroke-width="0.3">24</text>
<line x1="344.75" y1="306.20" x2="344.75" y2="308.80" stroke="#4a4a4a" stroke-width="0.9"/>
<text x="339.30" y="314.70" font-size="6.5" letter-spacing="1.80" fill="#1a1a1a" stroke="#1a1a1a" stroke-width="0.3">36</text>
<line x1="362.24" y1="306.20" x2="362.24" y2="308.80" stroke="#4a4a4a" stroke-width="0.9"/>
<text x="356.45" y="314.70" font-size="6.5" letter-spacing="1.80" fill="#1a1a1a" stroke="#1a1a1a" stroke-width="0.3">48</text>
<text x="311.20" y="327.50" font-size="6.8" letter-spacing="1.19" fill="#1a1a1a" stroke="#1a1a1a" stroke-width="0.28">time</text>
<text x="332.78" y="327.50" font-size="6.8" letter-spacing="1.57" fill="#1a1a1a" stroke="#1a1a1a" stroke-width="0.28">(h)</text>
<text x="274.20" y="289.17" font-size="7.7" letter-spacing="0.41" transform="rotate(-90 274.20 289.17)" fill="#1a1a1a" stroke="#1a1a1a" stroke-width="0.28">% cell death</text>
<polyline points="292.30,301.26 301.04,296.33 309.78,294.09 327.27,292.02 362.24,291.13" fill="none" stroke="#111" stroke-width="0.8" stroke-linejoin="round"/>
<line x1="292.30" y1="233.27" x2="292.30" y2="246.37" stroke="#3a3a3a" stroke-width="0.7"/>
<line x1="290.60" y1="233.27" x2="294.00" y2="233.27" stroke="#3a3a3a" stroke-width="0.7"/>
<line x1="290.60" y1="246.37" x2="294.00" y2="246.37" stroke="#3a3a3a" stroke-width="0.7"/>
<line x1="301.04" y1="233.09" x2="301.04" y2="246.55" stroke="#3a3a3a" stroke-width="0.7"/>
<line x1="299.34" y1="233.09" x2="302.74" y2="233.09" stroke="#3a3a3a" stroke-width="0.7"/>
<line x1="299.34" y1="246.55" x2="302.74" y2="246.55" stroke="#3a3a3a" stroke-width="0.7"/>
<line x1="309.78" y1="239.91" x2="309.78" y2="251.93" stroke="#3a3a3a" stroke-width="0.7"/>
<line x1="308.08" y1="239.91" x2="311.48" y2="239.91" stroke="#3a3a3a" stroke-width="0.7"/>
<line x1="308.08" y1="251.93" x2="311.48" y2="251.93" stroke="#3a3a3a" stroke-width="0.7"/>
<line x1="327.27" y1="273.82" x2="327.27" y2="278.30" stroke="#3a3a3a" stroke-width="0.7"/>
<line x1="325.57" y1="273.82" x2="328.97" y2="273.82" stroke="#3a3a3a" stroke-width="0.7"/>
<line x1="325.57" y1="278.30" x2="328.97" y2="278.30" stroke="#3a3a3a" stroke-width="0.7"/>
<polyline points="292.30,239.82 301.04,239.82 309.78,245.92 327.27,276.06 362.24,286.28" fill="none" stroke="#111" stroke-width="0.8" stroke-linejoin="round"/>
<circle cx="292.30" cy="301.26" r="1.55" fill="#fff" stroke="#111" stroke-width="0.75"/>
<circle cx="301.04" cy="296.33" r="1.55" fill="#fff" stroke="#111" stroke-width="0.75"/>
<circle cx="309.78" cy="294.09" r="1.55" fill="#fff" stroke="#111" stroke-width="0.75"/>
<circle cx="327.27" cy="292.02" r="1.55" fill="#fff" stroke="#111" stroke-width="0.75"/>
<circle cx="362.24" cy="291.13" r="1.55" fill="#fff" stroke="#111" stroke-width="0.75"/>
<circle cx="292.30" cy="239.82" r="1.90" fill="#111"/>
<circle cx="301.04" cy="239.82" r="1.90" fill="#111"/>
<circle cx="309.78" cy="245.92" r="1.90" fill="#111"/>
<circle cx="327.27" cy="276.06" r="1.90" fill="#111"/>
<circle cx="362.24" cy="286.28" r="1.90" fill="#111"/>
<text x="309.03" y="235.20" font-size="5.6" textLength="3.73" lengthAdjust="spacingAndGlyphs" font-weight="bold" fill="#000" stroke="#000" stroke-width="0.5">+</text>
<text x="316.53" y="234.90" font-size="6.8" font-weight="bold" letter-spacing="-0.13" fill="#000" stroke="#000" stroke-width="0.2">zVAD</text>
<text x="384.69" y="203.60" font-size="17.5" textLength="14.13" lengthAdjust="spacingAndGlyphs" font-weight="bold" fill="#000" stroke="#000" stroke-width="0.2">H</text>
<line x1="418.50" y1="225.60" x2="418.50" y2="306.00" stroke="#4a4a4a" stroke-width="1.05"/>
<line x1="418.00" y1="305.60" x2="509.15" y2="305.60" stroke="#4a4a4a" stroke-width="1.05"/>
<line x1="418.75" y1="305.60" x2="418.75" y2="308.20" stroke="#4a4a4a" stroke-width="0.9"/>
<text x="414.39" y="314.90" font-size="6.5" letter-spacing="1.80" fill="#1a1a1a" stroke="#1a1a1a" stroke-width="0.3">0</text>
<line x1="441.25" y1="305.60" x2="441.25" y2="308.20" stroke="#4a4a4a" stroke-width="0.9"/>
<text x="435.15" y="314.90" font-size="6.5" letter-spacing="1.80" fill="#1a1a1a" stroke="#1a1a1a" stroke-width="0.3">20</text>
<line x1="463.75" y1="305.60" x2="463.75" y2="308.20" stroke="#4a4a4a" stroke-width="0.9"/>
<text x="458.34" y="314.90" font-size="6.5" letter-spacing="1.80" fill="#1a1a1a" stroke="#1a1a1a" stroke-width="0.3">40</text>
<line x1="486.25" y1="305.60" x2="486.25" y2="308.20" stroke="#4a4a4a" stroke-width="0.9"/>
<text x="480.15" y="314.90" font-size="6.5" letter-spacing="1.80" fill="#1a1a1a" stroke="#1a1a1a" stroke-width="0.3">60</text>
<line x1="508.75" y1="305.60" x2="508.75" y2="308.20" stroke="#4a4a4a" stroke-width="0.9"/>
<text x="502.27" y="314.90" font-size="6.5" letter-spacing="1.80" fill="#1a1a1a" stroke="#1a1a1a" stroke-width="0.3">80</text>
<text x="444.19" y="328.10" font-size="8.6" letter-spacing="0.06" fill="#1a1a1a" stroke="#1a1a1a" stroke-width="0.28">% cell death</text>
<line x1="441.90" y1="231.80" x2="443.60" y2="231.80" stroke="#222" stroke-width="0.75"/>
<line x1="443.60" y1="230.30" x2="443.60" y2="233.30" stroke="#222" stroke-width="0.75"/>
<line x1="432.50" y1="239.65" x2="436.90" y2="239.65" stroke="#222" stroke-width="0.75"/>
<line x1="436.90" y1="238.05" x2="436.90" y2="241.25" stroke="#222" stroke-width="0.75"/>
<rect x="418.90" y="228.50" width="22.60" height="6.60" fill="#fff" stroke="#333" stroke-width="0.8"/>
<rect x="418.90" y="235.90" width="13.20" height="7.50" fill="#6a6a6a" stroke="#333" stroke-width="0.8"/>
<line x1="408.00" y1="235.40" x2="411.50" y2="235.40" stroke="#222" stroke-width="0.8"/>
<line x1="441.90" y1="252.15" x2="444.00" y2="252.15" stroke="#222" stroke-width="0.75"/>
<line x1="444.00" y1="250.65" x2="444.00" y2="253.65" stroke="#222" stroke-width="0.75"/>
<line x1="437.00" y1="259.70" x2="441.30" y2="259.70" stroke="#222" stroke-width="0.75"/>
<line x1="441.30" y1="258.10" x2="441.30" y2="261.30" stroke="#222" stroke-width="0.75"/>
<rect x="418.90" y="248.90" width="22.60" height="6.50" fill="#fff" stroke="#333" stroke-width="0.8"/>
<rect x="418.90" y="256.20" width="17.70" height="7.00" fill="#6a6a6a" stroke="#333" stroke-width="0.8"/>
<text x="402.46" y="257.30" font-size="6.6" letter-spacing="-0.42" fill="#1a1a1a" stroke="#1a1a1a" stroke-width="0.12">LPS</text>
<line x1="441.90" y1="271.60" x2="443.30" y2="271.60" stroke="#222" stroke-width="0.75"/>
<line x1="443.30" y1="270.10" x2="443.30" y2="273.10" stroke="#222" stroke-width="0.75"/>
<line x1="433.80" y1="279.70" x2="437.50" y2="279.70" stroke="#222" stroke-width="0.75"/>
<line x1="437.50" y1="278.10" x2="437.50" y2="281.30" stroke="#222" stroke-width="0.75"/>
<rect x="418.90" y="268.00" width="22.60" height="7.20" fill="#fff" stroke="#333" stroke-width="0.8"/>
<rect x="418.90" y="276.00" width="14.50" height="7.40" fill="#6a6a6a" stroke="#333" stroke-width="0.8"/>
<text x="398.23" y="276.80" font-size="6.6" letter-spacing="-0.33" fill="#1a1a1a" stroke="#1a1a1a" stroke-width="0.12">zVAD</text>
<line x1="442.30" y1="292.05" x2="443.60" y2="292.05" stroke="#222" stroke-width="0.75"/>
<line x1="443.60" y1="290.55" x2="443.60" y2="293.55" stroke="#222" stroke-width="0.75"/>
<line x1="500.80" y1="299.95" x2="505.50" y2="299.95" stroke="#222" stroke-width="0.75"/>
<line x1="505.50" y1="298.35" x2="505.50" y2="301.55" stroke="#222" stroke-width="0.75"/>
<rect x="418.90" y="288.80" width="23.00" height="6.50" fill="#fff" stroke="#333" stroke-width="0.8"/>
<rect x="418.90" y="296.10" width="81.50" height="7.70" fill="#6a6a6a" stroke="#333" stroke-width="0.8"/>
<text x="383.53" y="296.80" font-size="6.6" letter-spacing="-0.29" fill="#1a1a1a" stroke="#1a1a1a" stroke-width="0.12">zVAD+LPS</text>
<rect x="498.50" y="230.70" width="4.80" height="4.80" fill="#fff" stroke="#444" stroke-width="0.8"/>
<rect x="498.50" y="244.80" width="4.80" height="4.80" fill="#6a6a6a" stroke="#444" stroke-width="0.8"/>
<text x="507.20" y="235.00" font-size="6.4" textLength="3.63" lengthAdjust="spacingAndGlyphs" font-weight="bold" fill="#000" stroke="#000" stroke-width="0.2">4</text>
<text x="512.52" y="234.30" font-size="5.6" textLength="3.45" lengthAdjust="spacingAndGlyphs" font-weight="bold" fill="#000" stroke="#000" stroke-width="0.2">°</text>
<text x="507.15" y="248.80" font-size="6.4" textLength="3.69" lengthAdjust="spacingAndGlyphs" font-weight="bold" fill="#000" stroke="#000" stroke-width="0.2">3</text>
<text x="512.23" y="248.80" font-size="6.4" textLength="4.74" lengthAdjust="spacingAndGlyphs" font-weight="bold" fill="#000" stroke="#000" stroke-width="0.2">7</text>
<text x="516.98" y="248.30" font-size="5.6" textLength="3.83" lengthAdjust="spacingAndGlyphs" font-weight="bold" fill="#000" stroke="#000" stroke-width="0.2">°</text>
</g></svg>
</body></html>
